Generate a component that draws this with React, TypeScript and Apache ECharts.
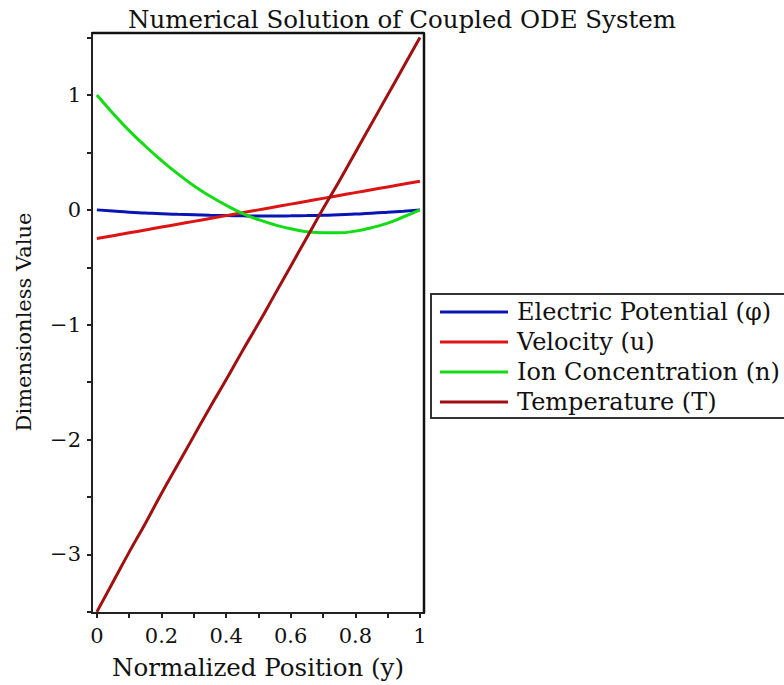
import React, { useEffect, useRef } from "react";
import * as echarts from "echarts";

const positions = [0, 0.05, 0.1, 0.15, 0.2, 0.25, 0.3, 0.35, 0.4, 0.45, 0.5, 0.55, 0.6, 0.65, 0.7, 0.75, 0.8, 0.85, 0.9, 0.95, 1.0];
const electricPotential = [0, -0.01, -0.02, -0.027, -0.034, -0.039, -0.043, -0.047, -0.05, -0.052, -0.053, -0.053, -0.052, -0.05, -0.047, -0.043, -0.037, -0.03, -0.021, -0.011, 0];
const velocity = [-0.25, -0.225, -0.2, -0.175, -0.15, -0.125, -0.1, -0.075, -0.05, -0.025, 0, 0.025, 0.05, 0.075, 0.1, 0.125, 0.15, 0.175, 0.2, 0.225, 0.25];
const ionConcentration = [1.0, 0.84, 0.69, 0.555, 0.43, 0.315, 0.21, 0.12, 0.04, -0.03, -0.085, -0.13, -0.165, -0.19, -0.2, -0.2, -0.185, -0.155, -0.115, -0.06, 0];
const temperature = [-3.5, -3.24, -2.98, -2.73, -2.47, -2.22, -1.97, -1.72, -1.48, -1.23, -0.99, -0.74, -0.49, -0.24, 0.01, 0.25, 0.5, 0.75, 1.0, 1.25, 1.5];

const seriesNames = [
  "Electric Potential (φ)",
  "Velocity (u)",
  "Ion Concentration (n)",
  "Temperature (T)",
];
const seriesColors = ["#0a14b4", "#dc1414", "#14dc14", "#a01010"];
const xTickValues = [0, 0.1, 0.2, 0.3, 0.4, 0.5, 0.6, 0.7, 0.8, 0.9, 1];
const xLabelValues = [0, 0.2, 0.4, 0.6, 0.8, 1];
const yTickValues = [-3.5, -3, -2.5, -2, -1.5, -1, -0.5, 0, 0.5, 1, 1.5];
const yLabelValues = [-3, -2, -1, 0, 1];

const FONT = "'DejaVu Serif', 'Liberation Serif', serif";
const X_MIN = -0.015;
const X_MAX = 1.0125;
const Y_MIN = -3.51;
const Y_MAX = 1.54;
const GRID = { left: 92, top: 33, width: 332, height: 580 };

export default function App() {
  const ref = useRef<HTMLDivElement>(null);
  useEffect(() => {
    document.body.style.margin = "0";
    const chart = echarts.init(ref.current!, undefined, { renderer: "svg" });
    const allSeries = [electricPotential, velocity, ionConcentration, temperature];
    chart.setOption({
      animation: false,
      backgroundColor: "#fff",
      title: {
        text: "Numerical Solution of Coupled ODE System",
        left: 397,
        textAlign: "center",
        top: 2,
        textStyle: { fontFamily: FONT, fontSize: 24.5, fontWeight: "normal", color: "#111" },
      },
      grid: { ...GRID, show: true, borderColor: "#222", borderWidth: 2, backgroundColor: "rgba(0,0,0,0)" },
      legend: {
        orient: "vertical",
        left: 431,
        top: 294,
        padding: [6, 16, 4, 9],
        borderColor: "#333",
        borderWidth: 2,
        itemWidth: 68,
        itemHeight: 3,
        itemGap: 6,
        icon: "rect",
        data: seriesNames,
        textStyle: { fontFamily: FONT, fontSize: 24, color: "#111", lineHeight: 24, padding: [0, 0, 0, 4] },
      },
      xAxis: {
        type: "value",
        min: X_MIN,
        max: X_MAX,
        name: "Normalized Position (y)",
        nameLocation: "middle",
        nameGap: 42,
        nameTextStyle: { fontFamily: FONT, fontSize: 24.5, color: "#111" },
        axisLine: { show: true, onZero: false, lineStyle: { color: "#222", width: 2 } },
        axisTick: { show: true, customValues: xTickValues, length: 5, lineStyle: { color: "#222", width: 2 } },
        axisLabel: {
          customValues: xLabelValues,
          fontFamily: FONT,
          fontSize: 21,
          color: "#111",
          margin: 12,
          formatter: (v: number) => String(Math.round(v * 10) / 10),
        },
        splitLine: { show: false },
      },
      yAxis: {
        type: "value",
        min: Y_MIN,
        max: Y_MAX,
        axisLine: { show: true, onZero: false, lineStyle: { color: "#222", width: 2 } },
        axisTick: { show: true, customValues: yTickValues, length: 5, lineStyle: { color: "#222", width: 2 } },
        axisLabel: {
          customValues: yLabelValues,
          fontFamily: FONT,
          fontSize: 21,
          color: "#111",
          margin: 11,
          formatter: (v: number) => String(Math.round(v)).replace("-", "\u2212"),
        },
        splitLine: { show: false },
      },
      graphic: [
        {
          type: "line",
          silent: true,
          z: 100,
          shape: { x1: GRID.left, y1: GRID.top, x2: GRID.left + GRID.width, y2: GRID.top },
          style: { stroke: "#111", lineWidth: 2.5 },
        },
        {
          type: "line",
          silent: true,
          z: 100,
          shape: { x1: GRID.left + GRID.width, y1: GRID.top, x2: GRID.left + GRID.width, y2: GRID.top + GRID.height },
          style: { stroke: "#111", lineWidth: 2.5 },
        },
        {
          type: "text",
          x: 24,
          y: 322,
          rotation: Math.PI / 2,
          style: {
            text: "Dimensionless Value",
            fontFamily: FONT,
            fontSize: 21,
            fill: "#111",
            align: "center",
            verticalAlign: "middle",
          },
        },
      ],
      series: seriesNames.map((name, i) => ({
        name,
        type: "line",
        smooth: true,
        symbol: "none",
        showSymbol: false,
        color: seriesColors[i],
        lineStyle: { width: 3, color: seriesColors[i] },
        data: positions.map((p, j) => [p, allSeries[i][j]]),
      })),
    });
    return () => chart.dispose();
  }, []);
  return <div ref={ref} style={{ width: 784, height: 685 }} />;
}
